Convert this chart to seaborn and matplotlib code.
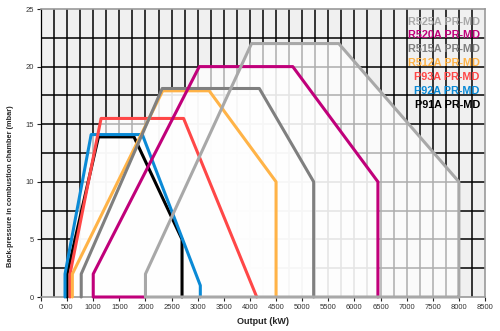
import matplotlib
matplotlib.use("Agg")
import matplotlib.pyplot as plt
import seaborn as sns
import pandas as pd
import numpy as np

# Working envelopes of the burner range: output (kW) vs. back-pressure (mbar)
models = ["P91A PR-MD", "P92A PR-MD", "P93A PR-MD", "R512A PR-MD",
          "R515A PR-MD", "R520A PR-MD", "R525A PR-MD"]
colors = ["#000000", "#0a8ad6", "#ff4747", "#ffb347",
          "#7f7f7f", "#c0007a", "#a8a8a8"]

p91a_kw = [500, 500, 1100, 1780, 2700, 2700]
p91a_mbar = [0, 2, 13.9, 13.9, 5, 0]
p92a_kw = [460, 460, 960, 1940, 3050, 3050]
p92a_mbar = [0, 2, 14.1, 14.1, 1, 0]
p93a_kw = [555, 555, 1150, 2730, 4130]
p93a_mbar = [0, 2, 15.5, 15.5, 0]
r512a_kw = [600, 600, 2330, 3220, 4500, 4500]
r512a_mbar = [0, 2, 17.9, 17.9, 10, 0]
r515a_kw = [770, 770, 2320, 4180, 5220, 5220]
r515a_mbar = [0, 2, 18.1, 18.1, 10, 0]
r520a_kw = [2000, 1000, 1000, 3030, 4820, 6450, 6450]
r520a_mbar = [0, 0, 2, 20, 20, 10, 0]
r525a_kw = [8000, 2000, 2000, 4030, 5700, 8000, 8000]
r525a_mbar = [0, 0, 2, 22, 22, 10, 0]

curves = {
    "P91A PR-MD": (p91a_kw, p91a_mbar),
    "P92A PR-MD": (p92a_kw, p92a_mbar),
    "P93A PR-MD": (p93a_kw, p93a_mbar),
    "R512A PR-MD": (r512a_kw, r512a_mbar),
    "R515A PR-MD": (r515a_kw, r515a_mbar),
    "R520A PR-MD": (r520a_kw, r520a_mbar),
    "R525A PR-MD": (r525a_kw, r525a_mbar),
}

x_ticks = list(range(0, 8501, 500))
y_ticks = [0, 5, 10, 15, 20, 25]

df = pd.concat(
    [pd.DataFrame({"output": kw, "pressure": mbar, "model": m})
     for m, (kw, mbar) in curves.items()],
    ignore_index=True,
)

sns.set_theme(style="white")
plt.rcParams["font.family"] = ["Liberation Sans", "DejaVu Sans"]

fig = plt.figure(figsize=(5, 3.31), dpi=100)
ax = fig.add_axes([0.082, 0.1027, 0.888, 0.8701])
ax.set_facecolor("#f0f0f0")

# grid every 250 kW / 2.5 mbar, lightened where an envelope covers it
for gx in np.arange(250, 8500, 250):
    ax.axvline(gx, color="black", lw=1.1, zorder=0.5)
for gy in np.arange(2.5, 25, 2.5):
    ax.axhline(gy, color="black", lw=1.1, zorder=0.5)

for m, (kw, mbar) in curves.items():
    ax.fill(kw, mbar, color="white", alpha=0.68, lw=0, zorder=1)

n_grid = len(ax.get_lines())
sns.lineplot(data=df, x="output", y="pressure", hue="model",
             hue_order=models, palette=colors, sort=False,
             estimator=None, lw=2.2, legend=False, ax=ax)
# envelope outlines sit above the frame so the y=0 segments show fully
for line in ax.get_lines()[n_grid:]:
    line.set_clip_on(False)
    line.set_zorder(3)

ax.set_xlim(0, 8500)
ax.set_ylim(0, 25)
ax.set_xticks(x_ticks)
ax.set_xticklabels([str(v) for v in x_ticks])
ax.set_yticks(y_ticks)
ax.tick_params(axis="both", labelsize=5.5, labelcolor="#333333",
               direction="out", length=3, width=0.8, color="#222222", pad=2)
ax.tick_params(axis="x", bottom=True)
ax.tick_params(axis="y", left=True)

for side in ["top", "right", "bottom"]:
    ax.spines[side].set_color("#999999")
    ax.spines[side].set_linewidth(1.2)
ax.spines["left"].set_color("black")
ax.spines["left"].set_linewidth(0.9)

ax.set_xlabel("Output (kW)", fontsize=6.5, fontweight="bold", labelpad=4)
ax.set_ylabel("Back-pressure in combustion chamber (mbar)", fontsize=5.3,
              fontweight="bold")
ax.yaxis.set_label_coords(-0.061, 0.385)

# model names, top to bottom in reverse drawing order
for i, (m, c) in enumerate(zip(models[::-1], colors[::-1])):
    ax.text(8400, 23.9 - i * 1.2, m, color=c, fontsize=7.8,
            fontweight="bold", ha="right", va="center", zorder=4)

fig.savefig("out.png", dpi=100)
